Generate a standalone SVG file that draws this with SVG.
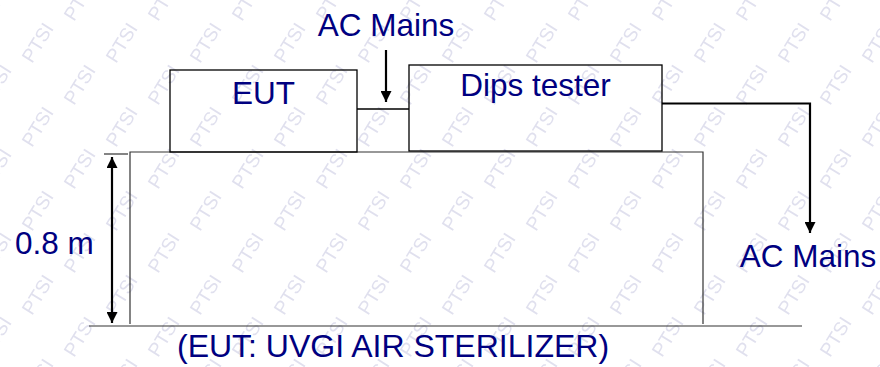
<svg xmlns="http://www.w3.org/2000/svg" width="880" height="367" viewBox="0 0 880 367">
  <style>
    .lbl { font-family: "Liberation Sans", Arial, sans-serif; font-size: 31.5px; fill: #000080; }
    .wm { font-family: "Liberation Sans", Arial, sans-serif; font-size: 19px; fill: #e0e0ee; }
    .box { fill: none; stroke: #000; stroke-width: 1.3; }
    .thin { fill: none; stroke: #333; stroke-width: 1.2; }
    .arrow { fill: none; stroke: #000; stroke-width: 2.2; }
  </style>
  <defs>
    <marker id="ah" viewBox="0 0 10 10" refX="10" refY="5" markerWidth="5" markerHeight="5" markerUnits="strokeWidth" orient="auto">
      <path d="M0,0 L10,5 L0,10 z" fill="#000"/>
    </marker>
    <marker id="ahs" viewBox="0 0 10 10" refX="0" refY="5" markerWidth="5" markerHeight="5" markerUnits="strokeWidth" orient="auto">
      <path d="M10,0 L0,5 L10,10 z" fill="#000"/>
    </marker>
    <pattern id="wmp" x="0" y="0" width="84" height="84" patternUnits="userSpaceOnUse">
      <text class="wm" transform="translate(32,64) rotate(-58)">PTSI</text>
      <text class="wm" transform="translate(-10,22) rotate(-58)">PTSI</text>
      <text class="wm" transform="translate(74,22) rotate(-58)">PTSI</text>
      <text class="wm" transform="translate(-10,106) rotate(-58)">PTSI</text>
      <text class="wm" transform="translate(74,106) rotate(-58)">PTSI</text>
    </pattern>
  </defs>
  <rect width="880" height="367" fill="#fff"/>
  <rect width="880" height="367" fill="url(#wmp)"/>

  <g id="table">
    <path class="thin" d="M130,324 V152 H703 V324"/>
  </g>
  <g id="floor">
    <line class="thin" x1="89" y1="326" x2="802" y2="326"/>
  </g>
  <g id="eut">
    <rect class="box" x="170" y="70" width="187" height="82"/>
    <text class="lbl" x="263.5" y="103.5" text-anchor="middle">EUT</text>
  </g>
  <g id="dips-tester">
    <rect class="box" x="409" y="65" width="253" height="86"/>
    <text class="lbl" x="535.5" y="96" text-anchor="middle">Dips tester</text>
  </g>
  <g id="ac-mains-top">
    <text class="lbl" x="386" y="36" text-anchor="middle">AC Mains</text>
  </g>
  <g id="ac-mains-right">
    <text class="lbl" x="808" y="267" text-anchor="middle">AC Mains</text>
  </g>
  <g id="height-label">
    <text class="lbl" x="15" y="254">0.8 m</text>
  </g>
  <g id="caption">
    <text class="lbl" x="393" y="357" text-anchor="middle" style="font-size:32px">(EUT: UVGI AIR STERILIZER)</text>
  </g>

  <g id="connectors">
    <line class="box" x1="357" y1="109" x2="409" y2="109"/>
    <line class="arrow" x1="386" y1="50" x2="386" y2="102" marker-end="url(#ah)"/>
    <path class="arrow" d="M662,103.5 H810 V233" marker-end="url(#ah)"/>
    <line class="thin" x1="104" y1="154" x2="128" y2="154"/>
    <line class="arrow" x1="112" y1="157" x2="112" y2="323" marker-start="url(#ahs)" marker-end="url(#ah)"/>
  </g>
</svg>
